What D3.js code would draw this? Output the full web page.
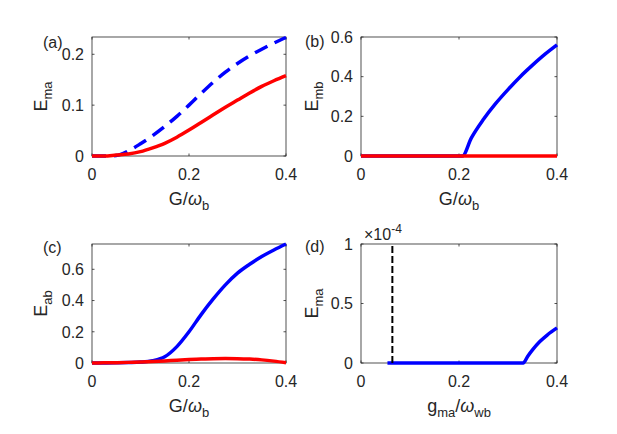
<!DOCTYPE html>
<html>
<head>
<meta charset="utf-8">
<script src="https://cdn.jsdelivr.net/npm/d3@7"></script>
<style>
  body { margin: 0; background: #fff; }
  text { font-family: "Liberation Sans", Arial, Helvetica, sans-serif; fill: #262626; }
</style>
</head>
<body>
<div id="chart"></div>
<script>
// shared coupling grid for panels (a) and (c)
var gGrid = [0, 0.025, 0.05, 0.075, 0.1, 0.125, 0.15, 0.175, 0.2, 0.225, 0.25, 0.275, 0.3, 0.325, 0.35, 0.375, 0.4];

// (a) E_ma
var emaBlue = [0, 0, 0.001, 0.01, 0.024, 0.04, 0.058, 0.078, 0.10, 0.123, 0.145, 0.165, 0.182, 0.197, 0.21, 0.222, 0.233];
var emaRed = [0, 0, 0.002, 0.004, 0.0085, 0.016, 0.025, 0.037, 0.051, 0.066, 0.081, 0.096, 0.11, 0.124, 0.137, 0.148, 0.158];

// (b) E_mb
var gB = [0, 0.207, 0.225, 0.25, 0.275, 0.3, 0.325, 0.35, 0.375, 0.4];
var embBlue = [0, 0, 0.09, 0.185, 0.265, 0.335, 0.40, 0.458, 0.512, 0.56];
var gBRed = [0, 0.4];
var embRed = [0, 0];

// (c) E_ab
var eabBlue = [0, 0, 0.001, 0.003, 0.006, 0.015, 0.04, 0.105, 0.2, 0.31, 0.41, 0.5, 0.575, 0.632, 0.682, 0.724, 0.762];
var eabRed = [0, 0.001, 0.002, 0.004, 0.006, 0.009, 0.013, 0.018, 0.022, 0.025, 0.028, 0.029, 0.028, 0.025, 0.02, 0.012, 0.002];

// (d) E_ma vs g_ma (x 1e-4)
var gD = [0.054, 0.331, 0.34, 0.35, 0.365, 0.38, 0.4];
var emaD = [0, 0, 0.055, 0.11, 0.18, 0.235, 0.295];
var gDash = 0.064;

var xTicks = [0, 0.2, 0.4];

var width = 617, height = 434;
var svg = d3.select("#chart").append("svg")
    .attr("width", width)
    .attr("height", height);

function drawPanel(p) {
    var x = d3.scaleLinear().domain([0, 0.4]).range([p.left, p.right]);
    var y = d3.scaleLinear().domain(p.ydomain).range([p.bottom, p.top]);
    var g = svg.append("g");

    // box
    g.append("rect")
        .attr("x", p.left).attr("y", p.top)
        .attr("width", p.right - p.left).attr("height", p.bottom - p.top)
        .attr("fill", "none").attr("stroke", "#262626").attr("stroke-width", 0.8);

    // ticks inward on all four sides
    var tl = 2.5;
    xTicks.forEach(function (t) {
        g.append("line").attr("x1", x(t)).attr("x2", x(t)).attr("y1", p.bottom).attr("y2", p.bottom - tl)
            .attr("stroke", "#262626").attr("stroke-width", 0.8);
        g.append("line").attr("x1", x(t)).attr("x2", x(t)).attr("y1", p.top).attr("y2", p.top + tl)
            .attr("stroke", "#262626").attr("stroke-width", 0.8);
        g.append("text").attr("x", x(t)).attr("y", p.bottom + 24)
            .attr("text-anchor", "middle").style("font-size", "16px").text(t);
    });
    p.yticks.forEach(function (t) {
        g.append("line").attr("x1", p.left).attr("x2", p.left + tl).attr("y1", y(t)).attr("y2", y(t))
            .attr("stroke", "#262626").attr("stroke-width", 0.8);
        g.append("line").attr("x1", p.right).attr("x2", p.right - tl).attr("y1", y(t)).attr("y2", y(t))
            .attr("stroke", "#262626").attr("stroke-width", 0.8);
        g.append("text").attr("x", p.left - 8).attr("y", y(t)).attr("dy", "0.36em")
            .attr("text-anchor", "end").style("font-size", "16px").text(t);
    });

    var clipId = "clip" + p.tag;
    svg.append("clipPath").attr("id", clipId).append("rect")
        .attr("x", p.left - 3).attr("y", p.top - 3)
        .attr("width", p.right - p.left + 6).attr("height", p.bottom - p.top + 6);

    var line = d3.line()
        .x(function (d) { return x(d[0]); })
        .y(function (d) { return y(d[1]); })
        .curve(d3.curveMonotoneX);

    p.series.forEach(function (s) {
        var pts = d3.zip(s.x, s.y);
        g.append("path")
            .attr("clip-path", "url(#" + clipId + ")")
            .attr("d", line(pts))
            .attr("fill", "none")
            .attr("stroke", s.color)
            .attr("stroke-width", s.width || 3.5)
            .attr("stroke-dasharray", s.dash || null);
    });

    if (p.vline !== undefined) {
        g.append("line")
            .attr("x1", x(p.vline)).attr("x2", x(p.vline))
            .attr("y1", y(p.ydomain[0])).attr("y2", y(p.ydomain[1]))
            .attr("stroke", "#000").attr("stroke-width", 2)
            .attr("stroke-dasharray", "7,3");
    }

    // panel letter
    g.append("text").attr("x", p.labelX).attr("y", p.labelY)
        .style("font-size", "16px").text("(" + p.tag + ")");

    // y label (rotated)
    var yl = g.append("text")
        .attr("transform", "translate(" + p.ylabX + "," + ((p.top + p.bottom) / 2) + ") rotate(-90)")
        .attr("text-anchor", "middle").style("font-size", "18px");
    yl.append("tspan").text("E");
    yl.append("tspan").attr("dy", 5).style("font-size", "13px").text(p.ysub);

    // x label
    var xl = g.append("text")
        .attr("x", (p.left + p.right) / 2).attr("y", p.bottom + 49)
        .attr("text-anchor", "middle").style("font-size", "18px");
    p.xlab.forEach(function (part) {
        var t = xl.append("tspan").text(part.t);
        if (part.sub) t.attr("dy", 5).style("font-size", "13px");
        else if (part.back) t.attr("dy", -5);
        if (part.italic) t.style("font-style", "italic");
    });

    if (p.exponent) {
        var ex = g.append("text").attr("x", p.left + 3).attr("y", p.top - 4)
            .style("font-size", "16px");
        ex.append("tspan").text("\u00d710");
        ex.append("tspan").attr("dy", -7).style("font-size", "12px").text("-4");
    }
}

var xlabG = [{ t: "G/" }, { t: "\u03c9", italic: true }, { t: "b", sub: true }];

drawPanel({
    tag: "a", left: 92, right: 286, top: 37, bottom: 156,
    ydomain: [0, 0.234], yticks: [0, 0.1, 0.2], ysub: "ma",
    labelX: 43, labelY: 48, ylabX: 47, xlab: xlabG,
    series: [
        { x: gGrid, y: emaBlue, color: "#0000ff", dash: "14,8" },
        { x: gGrid, y: emaRed, color: "#ff0000" }
    ]
});

drawPanel({
    tag: "b", left: 361, right: 557, top: 37, bottom: 156,
    ydomain: [0, 0.6], yticks: [0, 0.2, 0.4, 0.6], ysub: "mb",
    labelX: 305, labelY: 47, ylabX: 318, xlab: xlabG,
    series: [
        { x: gB, y: embBlue, color: "#0000ff" },
        { x: gBRed, y: embRed, color: "#ff0000" }
    ]
});

drawPanel({
    tag: "c", left: 92, right: 286, top: 244, bottom: 363,
    ydomain: [0, 0.762], yticks: [0, 0.2, 0.4, 0.6], ysub: "ab",
    labelX: 43, labelY: 253, ylabX: 47, xlab: xlabG,
    series: [
        { x: gGrid, y: eabBlue, color: "#0000ff" },
        { x: gGrid, y: eabRed, color: "#ff0000" }
    ]
});

drawPanel({
    tag: "d", left: 361, right: 557, top: 244, bottom: 363,
    ydomain: [0, 1], yticks: [0, 0.5, 1], ysub: "ma",
    labelX: 305, labelY: 252, ylabX: 318,
    xlab: [{ t: "g" }, { t: "ma", sub: true }, { t: "/", back: true }, { t: "\u03c9", italic: true }, { t: "wb", sub: true }],
    exponent: true, vline: gDash,
    series: [
        { x: gD, y: emaD, color: "#0000ff" }
    ]
});
</script>
</body>
</html>
